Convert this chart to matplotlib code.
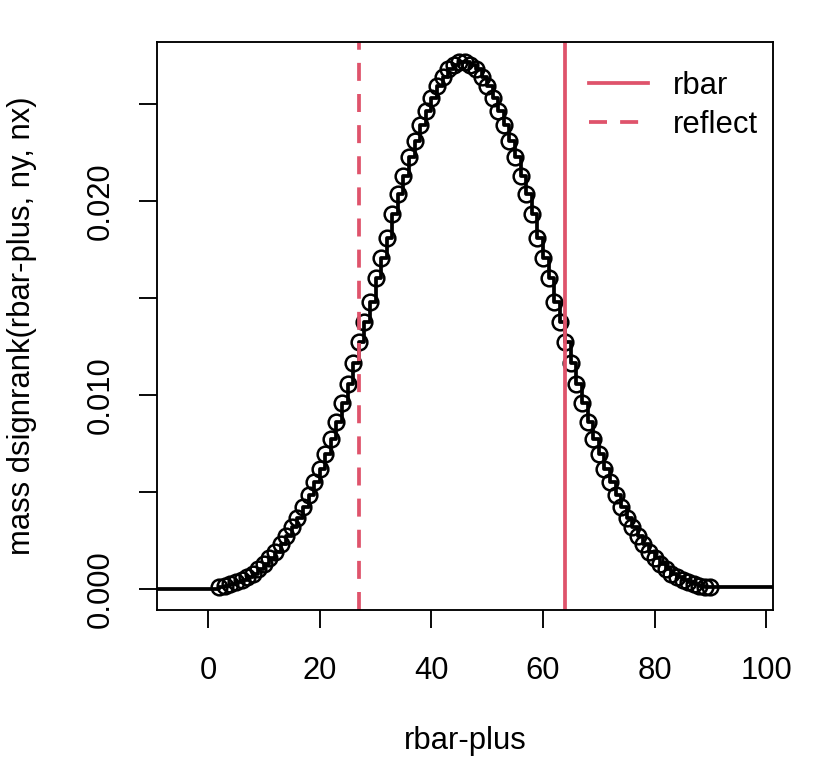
import matplotlib
matplotlib.use("Agg")
import matplotlib.pyplot as plt
from matplotlib.ticker import FixedLocator, FixedFormatter

# knots of the mass function and the mass
rbar_plus = list(range(2, 91))
mass = [
    0.00012, 0.00018, 0.00025, 0.00034, 0.00046, 0.00061, 0.00080, 0.00102,
    0.00128, 0.00158, 0.00192, 0.00230, 0.00272, 0.00318, 0.00368, 0.00423,
    0.00482, 0.00551, 0.00619, 0.00696, 0.00772, 0.00858, 0.00960, 0.01056,
    0.01165, 0.01275, 0.01378, 0.01480, 0.01604, 0.01706, 0.01808, 0.01932,
    0.02034, 0.02128, 0.02226, 0.02310, 0.02390, 0.02460, 0.02530, 0.02590,
    0.02640, 0.02680, 0.02700, 0.02716,
    0.02716, 0.02700, 0.02680, 0.02640, 0.02590, 0.02530, 0.02460, 0.02390,
    0.02310, 0.02226, 0.02128, 0.02034, 0.01932, 0.01808, 0.01706, 0.01604,
    0.01480, 0.01378, 0.01275, 0.01165, 0.01056, 0.00960, 0.00858, 0.00772,
    0.00696, 0.00619, 0.00551, 0.00482, 0.00423, 0.00368, 0.00318, 0.00272,
    0.00230, 0.00192, 0.00158, 0.00128, 0.00102, 0.00080, 0.00061, 0.00046,
    0.00034, 0.00025, 0.00018, 0.00012, 0.00010,
]
rbar = 64
reflect = 27

xticks = [0, 20, 40, 60, 80, 100]
yticks = [0.0, 0.005, 0.010, 0.015, 0.020, 0.025]
ytick_labels = ["0.000", "", "0.010", "", "0.020", ""]

red = "#DF536B"
fs = 22.3
plt.rcParams['font.family'] = ['Liberation Sans', 'DejaVu Sans']
plt.rcParams['font.size'] = fs

fig = plt.figure(figsize=(8.16, 7.68), dpi=100)
ax = fig.add_axes([157 / 816, 1 - 610 / 768, 616 / 816, 568 / 768])

# step function: zero left of the first knot, last value carried right
xs = [-20] + rbar_plus + [120]
ys = [0] + mass + [mass[-1]]
ax.step(xs, ys, where='post', color='black', lw=2.7)
ax.plot(rbar_plus, mass, 'o', mfc='none', mec='black', ms=11.3, mew=1.8)

ax.axvline(rbar, color=red, lw=2.7, label='rbar')
ax.axvline(reflect, color=red, lw=2.7, dashes=(4.8, 3.5), label='reflect')

ax.set_xlim(-9.14, 101.2)
ax.set_ylim(-0.00108, 0.02818)

ax.xaxis.set_major_locator(FixedLocator(xticks))
ax.yaxis.set_major_locator(FixedLocator(yticks))
ax.yaxis.set_major_formatter(FixedFormatter(ytick_labels))
for lab in ax.get_yticklabels():
    lab.set_rotation(90)
    lab.set_va('center')

ax.tick_params(direction='out', length=13, width=1.35, labelsize=fs)
ax.tick_params(axis='x', pad=20)
ax.tick_params(axis='y', pad=17)
for s in ax.spines.values():
    s.set_linewidth(1.35)

ax.set_xlabel('rbar-plus', va='center')
ax.xaxis.set_label_coords(0.5, (610 - 741) / 568)
ax.set_ylabel('mass dsignrank(rbar-plus, ny, nx)', va='center')
ax.yaxis.set_label_coords((22 - 157) / 616, 0.5)

ax.legend(loc='upper right', bbox_to_anchor=(1.0227, 1.0), frameon=False,
          handlelength=1.9, handletextpad=0.8, labelspacing=0.3,
          borderaxespad=0.53, fontsize=fs)

fig.savefig('out.png', dpi=100)
